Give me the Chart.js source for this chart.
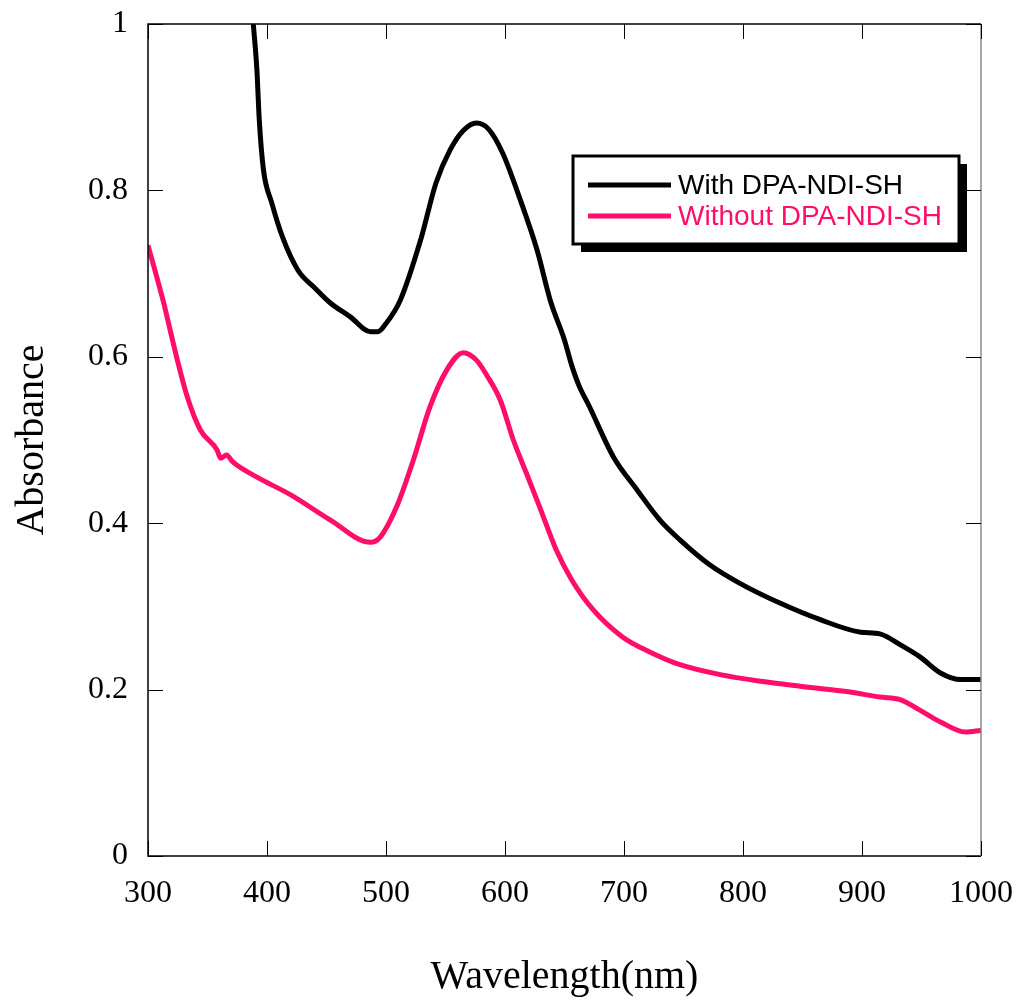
<!DOCTYPE html>
<html lang="en">
<head>
    <meta charset="UTF-8">
    <title>Absorbance spectra</title>
    <script src="https://cdn.jsdelivr.net/npm/chart.js"></script>
    <style>
        html, body { margin: 0; padding: 0; background: #fff; }
        #wrap { width: 1019px; height: 1005px; }
    </style>
</head>
<body>
    <div id="wrap"><canvas id="absChart"></canvas></div>

    <script>
        // wavelength (nm) / absorbance
        const withWl = [388.5, 391.5, 393.5, 397, 404, 413, 426, 440, 453, 470, 487, 493, 500, 512, 529, 542, 554, 565, 576, 586, 598, 613, 627, 638, 650, 656, 662, 671, 691, 711, 730, 747, 772, 797, 831, 865, 899, 915, 932, 949, 966, 983, 1000];
        const withAbs = [1.0, 0.945, 0.885, 0.825, 0.785, 0.744, 0.704, 0.683, 0.665, 0.648, 0.630, 0.630, 0.640, 0.668, 0.740, 0.809, 0.849, 0.872, 0.881, 0.874, 0.845, 0.788, 0.728, 0.668, 0.620, 0.590, 0.566, 0.540, 0.480, 0.440, 0.404, 0.380, 0.350, 0.328, 0.304, 0.284, 0.269, 0.267, 0.254, 0.239, 0.220, 0.212, 0.212];

        const withoutWl = [300, 312.6, 324, 333, 344, 358, 361, 366, 371, 392, 420, 453, 487, 495, 509, 523, 537, 551, 565, 576, 585, 596, 607, 618, 629, 643, 656, 674, 699, 722, 747, 781, 815, 848, 890, 915, 932, 949, 966, 987, 1000];
        const withoutAbs = [0.734, 0.668, 0.600, 0.552, 0.512, 0.488, 0.478, 0.482, 0.474, 0.455, 0.434, 0.404, 0.377, 0.383, 0.420, 0.476, 0.540, 0.584, 0.605, 0.596, 0.577, 0.548, 0.500, 0.460, 0.420, 0.368, 0.332, 0.296, 0.263, 0.245, 0.230, 0.218, 0.210, 0.204, 0.197, 0.191, 0.188, 0.175, 0.161, 0.149, 0.151];

        const seriesLabels = ['With DPA-NDI-SH', 'Without DPA-NDI-SH'];
        const seriesColors = ['#000000', '#ff0d6a'];

        const xTicks = [300, 400, 500, 600, 700, 800, 900, 1000];
        const yTicks = [0, 0.2, 0.4, 0.6, 0.8, 1];

        const toPoints = (xs, ys) => xs.map((x, i) => ({ x: x, y: ys[i] }));

        // frame, inward ticks and boxed legend with drop shadow
        const framePlugin = {
            id: 'framePlugin',
            afterDraw(chart) {
                const ctx = chart.ctx;
                const a = chart.chartArea;
                const xs = chart.scales.x, ys = chart.scales.y;
                ctx.save();
                ctx.lineWidth = 1.5;
                ctx.strokeStyle = '#000';
                ctx.beginPath();
                ctx.moveTo(a.right, a.top);
                ctx.lineTo(a.left, a.top);
                ctx.lineTo(a.left, a.bottom);
                ctx.lineTo(a.right, a.bottom);
                ctx.stroke();
                ctx.strokeStyle = '#888';
                ctx.beginPath();
                ctx.moveTo(a.right, a.top);
                ctx.lineTo(a.right, a.bottom);
                ctx.stroke();

                const tl = 15;
                ctx.strokeStyle = '#000';
                ctx.lineWidth = 1;
                xTicks.forEach(v => {
                    const px = Math.round(xs.getPixelForValue(v)) + 0.5;
                    ctx.beginPath();
                    ctx.moveTo(px, a.bottom); ctx.lineTo(px, a.bottom - tl);
                    ctx.moveTo(px, a.top); ctx.lineTo(px, a.top + tl);
                    ctx.stroke();
                });
                yTicks.forEach(v => {
                    const py = Math.round(ys.getPixelForValue(v)) + 0.5;
                    ctx.beginPath();
                    ctx.moveTo(a.left, py); ctx.lineTo(a.left + tl, py);
                    ctx.moveTo(a.right, py); ctx.lineTo(a.right - tl, py);
                    ctx.stroke();
                });

                // legend box
                const bx = 573, by = 156, bw = 386, bh = 88;
                ctx.fillStyle = '#000';
                ctx.fillRect(bx + 8, by + 8, bw, bh);
                ctx.fillStyle = '#fff';
                ctx.fillRect(bx, by, bw, bh);
                ctx.lineWidth = 3;
                ctx.strokeStyle = '#000';
                ctx.strokeRect(bx, by, bw, bh);

                ctx.font = '28px "Liberation Sans", Arial, sans-serif';
                ctx.textBaseline = 'middle';
                ctx.textAlign = 'left';
                chart.data.datasets.forEach((ds, i) => {
                    const ly = 185 + i * 31;
                    ctx.strokeStyle = ds.borderColor;
                    ctx.lineWidth = 5;
                    ctx.beginPath();
                    ctx.moveTo(588, ly); ctx.lineTo(671, ly);
                    ctx.stroke();
                    ctx.fillStyle = ds.borderColor;
                    ctx.fillText(ds.label, 678, ly + 1);
                });
                ctx.restore();
            }
        };

        const serif = '"Liberation Serif", "Times New Roman", serif';

        new Chart(document.getElementById('absChart'), {
            type: 'line',
            data: {
                datasets: [
                    {
                        label: seriesLabels[0],
                        data: toPoints(withWl, withAbs),
                        borderColor: seriesColors[0],
                        borderWidth: 5,
                        pointRadius: 0,
                        cubicInterpolationMode: 'monotone',
                        clip: 0
                    },
                    {
                        label: seriesLabels[1],
                        data: toPoints(withoutWl, withoutAbs),
                        borderColor: seriesColors[1],
                        borderWidth: 5,
                        pointRadius: 0,
                        cubicInterpolationMode: 'monotone',
                        clip: 0
                    }
                ]
            },
            options: {
                responsive: true,
                maintainAspectRatio: false,
                animation: false,
                layout: { padding: { top: 24, right: 38, left: 0, bottom: 0 } },
                plugins: {
                    legend: { display: false },
                    tooltip: { enabled: false }
                },
                scales: {
                    x: {
                        type: 'linear',
                        min: 300,
                        max: 1000,
                        border: { display: false },
                        grid: { display: false, drawTicks: false },
                        afterFit: scale => {
                            scale.height = 149;
                            scale.paddingLeft = 0;
                            scale.paddingRight = 0;
                        },
                        afterBuildTicks: scale => { scale.ticks = xTicks.map(v => ({ value: v })); },
                        ticks: {
                            color: '#000',
                            padding: 18,
                            maxRotation: 0,
                            font: { family: serif, size: 32 },
                            callback: v => String(v)
                        },
                        title: {
                            display: true,
                            text: 'Wavelength(nm)',
                            color: '#000',
                            font: { family: serif, size: 40 },
                            padding: { top: 0, bottom: 4 }
                        }
                    },
                    y: {
                        min: 0,
                        max: 1,
                        border: { display: false },
                        grid: { display: false, drawTicks: false },
                        afterFit: scale => {
                            scale.width = 148;
                            scale.paddingTop = 0;
                            scale.paddingBottom = 0;
                        },
                        afterBuildTicks: scale => { scale.ticks = yTicks.map(v => ({ value: v })); },
                        ticks: {
                            color: '#000',
                            padding: 20,
                            font: { family: serif, size: 32 },
                            callback: v => String(Math.round(v * 10) / 10)
                        },
                        title: {
                            display: true,
                            text: 'Absorbance',
                            color: '#000',
                            font: { family: serif, size: 40 },
                            padding: { top: 8, bottom: 0 }
                        }
                    }
                }
            },
            plugins: [framePlugin]
        });
    </script>
</body>
</html>
